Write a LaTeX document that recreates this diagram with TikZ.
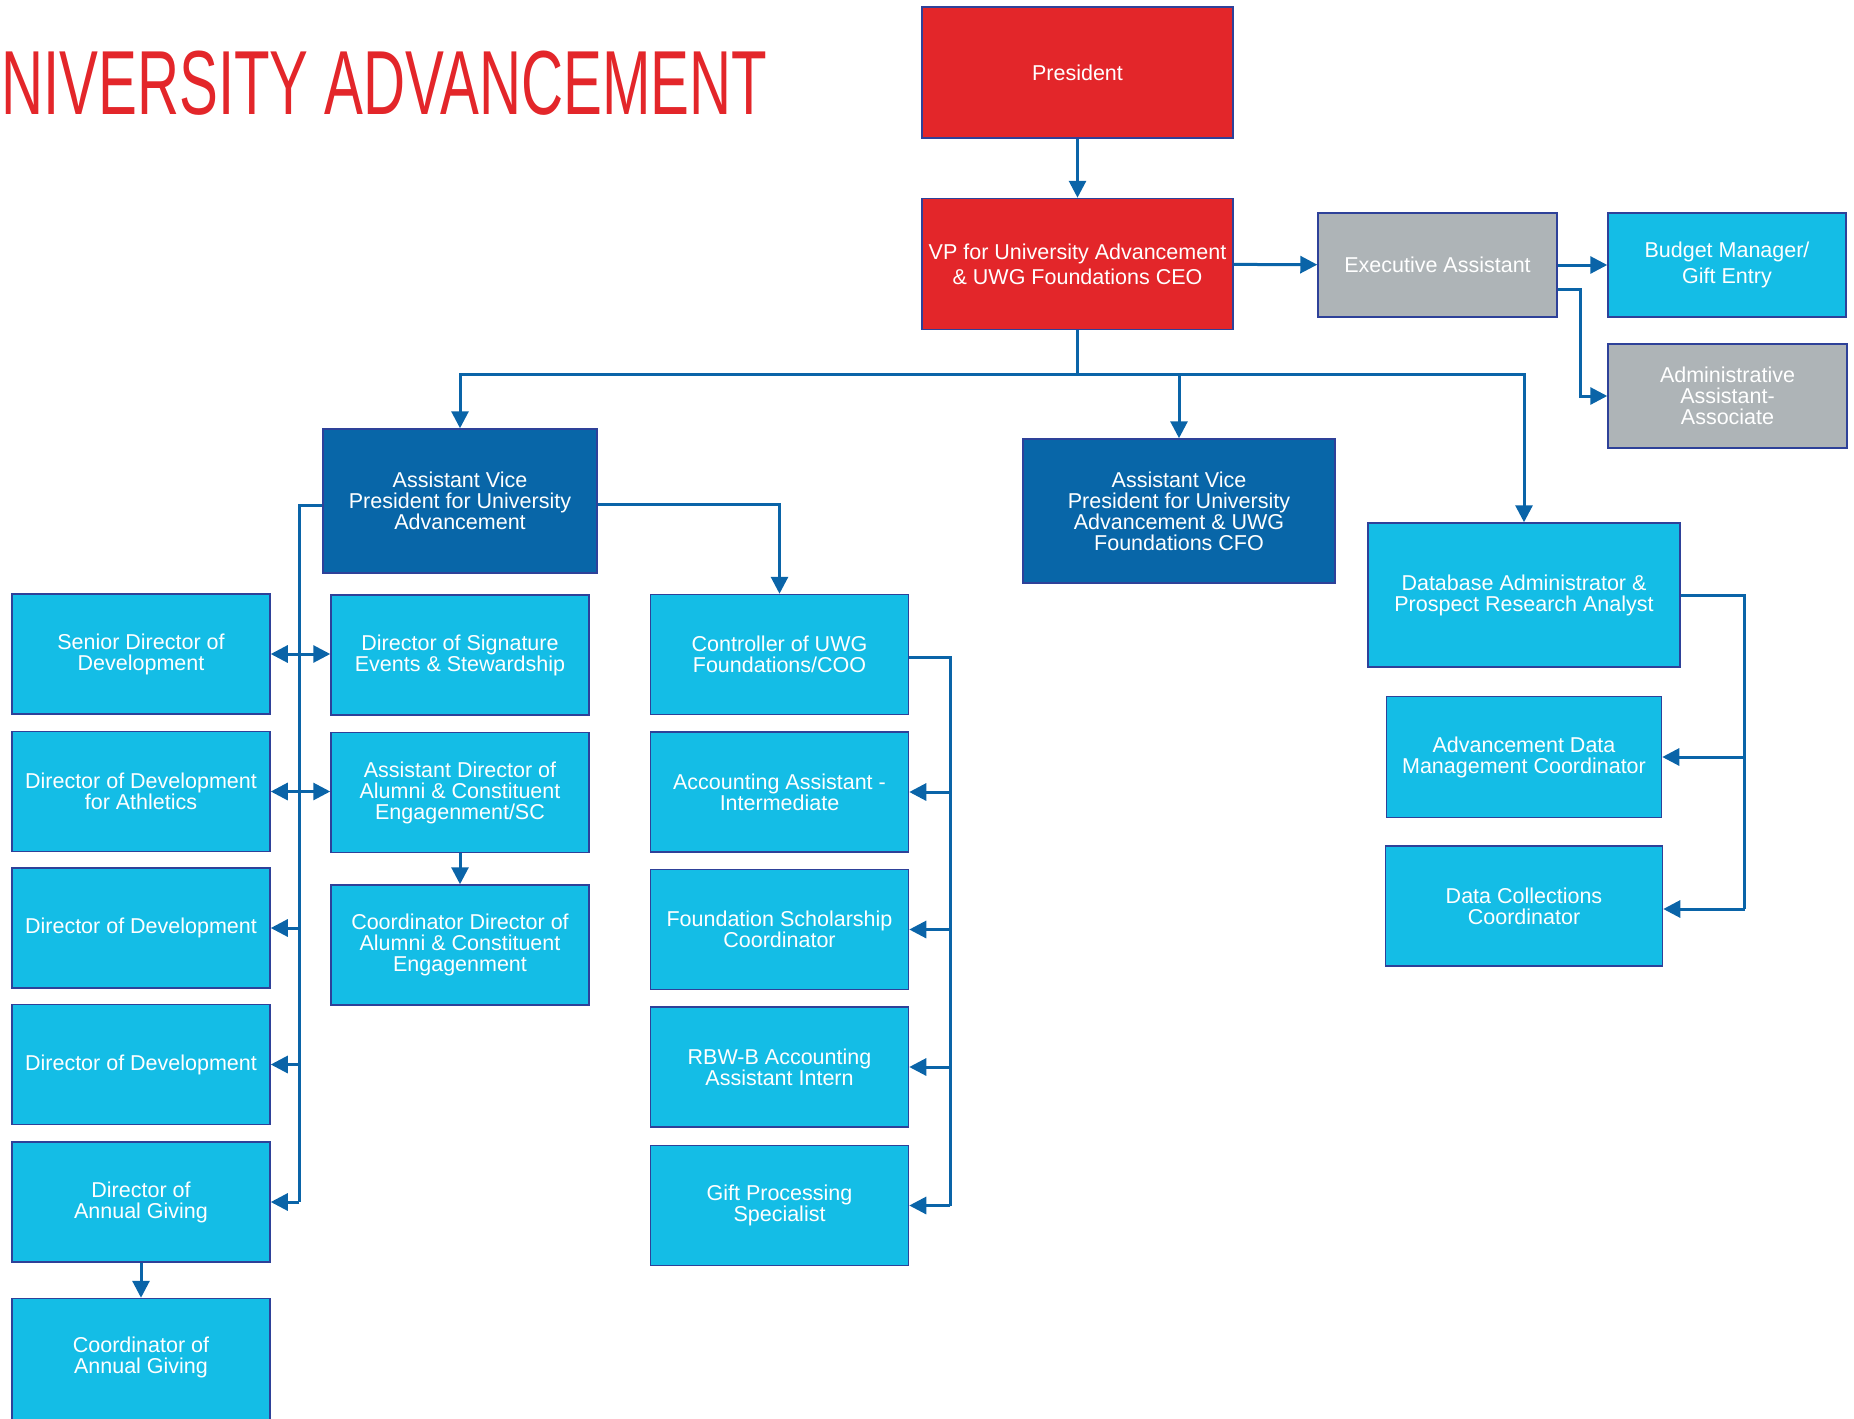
\documentclass[tikz,border=0pt]{standalone}
\usepackage{fontspec}
\setmainfont{Liberation Sans}
\newfontfamily\titlefont[FakeStretch=0.64]{Liberation Sans}
\usepackage{tikz}
\usetikzlibrary{shapes, arrows.meta, positioning, calc}
\definecolor{uwgred}{HTML}{E3262A}
\definecolor{uwgnavy}{HTML}{0866A8}
\definecolor{uwgcyan}{HTML}{14BDE6}
\definecolor{uwggrey}{HTML}{AEB4B7}
\definecolor{linkblue}{HTML}{0A64A8}
\definecolor{boxline}{HTML}{2E4199}
\newcommand{\boxfont}{\fontsize{21.5}{21}\selectfont}
\tikzset{
    box/.style={rectangle, draw=boxline, line width=1.5pt, text=white, align=center, font=\boxfont, inner sep=2pt},
    redbox/.style={box, fill=uwgred, minimum width=311pt, minimum height=131pt},
    navybox/.style={box, fill=uwgnavy, minimum height=144pt},
    greybox/.style={box, fill=uwggrey, minimum width=239pt, minimum height=104pt},
    cyanbox/.style={box, fill=uwgcyan},
    colbox/.style={cyanbox, minimum width=258pt, minimum height=120pt},
    link/.style={line width=3pt, draw=linkblue, -{Triangle[length=17pt,width=17pt]}},
    plain/.style={line width=3pt, draw=linkblue}
}

\begin{document}
\begin{tikzpicture}[x=1pt, y=-1pt, node distance=15pt]
    \useasboundingbox (0,0) rectangle (1854,1418);
    \clip (0,0) rectangle (1854,1418);

    \node[anchor=base west, inner sep=0, text=uwgred, font=\titlefont\fontsize{91}{91}\selectfont] (title) at (1,115) {NIVERSITY ADVANCEMENT};

    \node[redbox] (pres) at (1077.5,72.5) {President};
    \node[redbox, below=59pt of pres, font=\fontsize{21.5}{25}\selectfont] (vp) {VP for University Advancement\\\& UWG Foundations CEO};
    \node[greybox] (exec) at (1437.5,265) {Executive Assistant};
    \node[cyanbox, minimum width=238pt, minimum height=104pt, font=\fontsize{21.5}{26}\selectfont] (budget) at (1727,265) {Budget Manager/\\Gift Entry};
    \node[greybox] (admin) at (1727.5,396) {Administrative\\Assistant-\\Associate};

    \node[navybox, minimum width=274pt] (avpua) at (460,501) {Assistant Vice\\President for University\\Advancement};
    \node[navybox, minimum width=312pt] (avpcfo) at (1179,511) {Assistant Vice\\President for University\\Advancement \& UWG\\Foundations CFO};

    \node[cyanbox, minimum width=312pt, minimum height=144pt] (dbadmin) at (1524,595) {Database Administrator \&\\Prospect Research Analyst};
    \node[cyanbox, minimum width=275pt, minimum height=121pt, below=28pt of dbadmin] (advdata) {Advancement Data\\Management Coordinator};
    \node[cyanbox, minimum width=277pt, minimum height=120pt, below=27pt of advdata] (datacoll) {Data Collections\\Coordinator};

    \node[colbox] (senior) at (141,654) {Senior Director of\\Development};
    \node[colbox, below=16pt of senior] (athletics) {Director of Development\\for Athletics};
    \node[colbox, below=of athletics] (devone) {Director of Development};
    \node[colbox, below=of devone] (devtwo) {Director of Development};
    \node[colbox, below=16pt of devtwo] (annual) {Director of\\Annual Giving};
    \node[colbox, minimum height=140pt, below=35pt of annual.south, anchor=north] (coordag) {Coordinator of\\Annual Giving\\[6pt]~};

    \node[colbox] (signature) at (460,655) {Director of Signature\\Events \& Stewardship};
    \node[colbox, below=16pt of signature] (asstalumni) {Assistant Director of\\Alumni \& Constituent\\Engagenment/SC};
    \node[colbox, below=31pt of asstalumni] (coordalumni) {Coordinator Director of\\Alumni \& Constituent\\Engagenment};

    \node[colbox] (controller) at (779.5,654.5) {Controller of UWG\\Foundations/COO};
    \node[colbox, below=16pt of controller] (acct) {Accounting Assistant -\\Intermediate};
    \node[colbox, below=16pt of acct] (schol) {Foundation Scholarship\\Coordinator};
    \node[colbox, below=16pt of schol] (rbw) {RBW-B Accounting\\Assistant Intern};
    \node[colbox, below=17pt of rbw] (gift) {Gift Processing\\Specialist};

    \draw[link] (pres) -- (vp);
    \draw[link] (vp) -- (exec);
    \draw[link] (exec) -- (budget);
    \draw[link] ([yshift=-24pt]exec.east) -- ++(23,0) |- (admin.west);

    \draw[plain] (vp.south) -- ++(0,44) coordinate (split);
    \draw[link] (split) -| (avpua.north);
    \draw[link] (split) -| (avpcfo.north);
    \draw[link] (split) -| (dbadmin.north);

    \draw[plain] ([yshift=-4pt]avpua.west) -- ++(-23,0) coordinate (ltop) -- (ltop |- annual.east);
    \draw[link] (ltop |- senior.east) -- (senior.east);
    \draw[link] (ltop |- senior.east) -- (senior.east -| signature.west);
    \draw[link] (ltop |- athletics.east) -- (athletics.east);
    \draw[link] (ltop |- athletics.east) -- (athletics.east -| asstalumni.west);
    \foreach \n in {devone, devtwo, annual}
        \draw[link] (ltop |- \n.east) -- (\n.east);
    \draw[link] (asstalumni) -- (coordalumni);
    \draw[link] (annual) -- (coordag);

    \draw[link] ([yshift=-3pt]avpua.east) -| (controller.north);
    \draw[plain] ([yshift=-3pt]controller.east) -- ++(41,0) coordinate (rtop) -- (rtop |- gift.east);
    \foreach \n in {acct, schol, rbw, gift}
        \draw[link] (rtop |- \n.east) -- (\n.east);

    \draw[plain] (dbadmin.east) -- ++(64,0) coordinate (dtop) -- ([yshift=-3pt]dtop |- datacoll.east);
    \draw[link] (dtop |- advdata.east) -- (advdata.east);
    \draw[link] ([yshift=-3pt]dtop |- datacoll.east) -- ([yshift=-3pt]datacoll.east);
\end{tikzpicture}
\end{document}
